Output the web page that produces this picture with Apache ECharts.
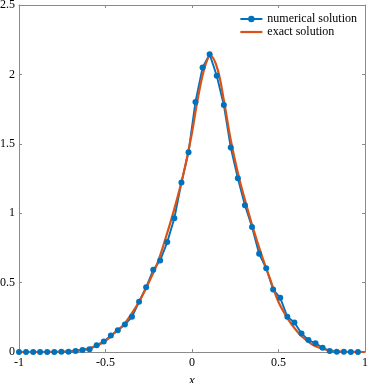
<!DOCTYPE html>
<html>
<head>
<meta charset="utf-8">
<script src="https://cdn.jsdelivr.net/npm/echarts@6/dist/echarts.min.js"></script>
<style>html,body{margin:0;padding:0;background:#fff;}#c{width:368px;height:383px;}</style>
</head>
<body>
<div id="c"></div>
<script>
// numerical solution grid points and values
var numX = [-1.0, -0.959, -0.918, -0.878, -0.837, -0.796, -0.755, -0.714, -0.673, -0.633,
  -0.592, -0.551, -0.510, -0.469, -0.429, -0.388, -0.347, -0.306, -0.265, -0.224,
  -0.184, -0.143, -0.102, -0.061, -0.020, 0.020, 0.061, 0.102, 0.143, 0.184,
  0.224, 0.265, 0.306, 0.347, 0.388, 0.429, 0.469, 0.510, 0.551, 0.592,
  0.633, 0.673, 0.714, 0.755, 0.796, 0.837, 0.878, 0.918, 0.959];
var numY = [0, 0, 0, 0, 0, 0, 0.001, 0.002, 0.007, 0.014,
  0.020, 0.049, 0.075, 0.118, 0.157, 0.198, 0.254, 0.362, 0.466, 0.592,
  0.659, 0.792, 0.964, 1.222, 1.440, 1.802, 2.049, 2.145, 1.990, 1.780,
  1.473, 1.251, 1.058, 0.900, 0.707, 0.603, 0.450, 0.390, 0.254, 0.213,
  0.134, 0.086, 0.063, 0.031, 0.007, 0.002, 0.001, 0, 0];
// exact solution
var exX = [-1, -0.9, -0.8, -0.7, -0.65, -0.6, -0.55, -0.5, -0.45, -0.4, -0.35, -0.3, -0.25,
  -0.2, -0.15, -0.1, -0.05, 0, 0.03, 0.07, 0.107, 0.148, 0.186, 0.225, 0.273, 0.312,
  0.351, 0.4, 0.45, 0.5, 0.555, 0.6, 0.632, 0.7, 0.75, 0.8, 0.865, 0.9, 1];
var exY = [0, 0, 0.001, 0.006, 0.013, 0.025, 0.045, 0.08, 0.135, 0.19, 0.275, 0.375, 0.5,
  0.64, 0.83, 1.04, 1.28, 1.58, 1.8, 2.036, 2.135, 2.036, 1.80, 1.52, 1.25, 1.07,
  0.9, 0.708, 0.53, 0.36, 0.237, 0.16, 0.116, 0.05, 0.025, 0.01, 0.003, 0.001, 0];
var xTicks = [-1, -0.5, 0, 0.5, 1];
var yTicks = [0, 0.5, 1, 1.5, 2, 2.5];

function pairs(xs, ys) { return xs.map(function (x, i) { return [x, ys[i]]; }); }

var FONT = 'Liberation Serif';
var axisGray = '#8a8a8a';
function xAx(pos, labels) {
  return {
    type: 'value', position: pos, min: xTicks[0], max: xTicks[xTicks.length - 1], interval: 0.5,
    axisLine: { show: true, onZero: false, lineStyle: { color: axisGray, width: 1 } },
    axisTick: { show: true, inside: true, length: 3, lineStyle: { color: axisGray } },
    axisLabel: { show: labels, color: '#000', fontFamily: FONT, fontSize: 12, margin: 5 },
    splitLine: { show: false },
    name: labels ? 'x' : '', nameLocation: 'middle', nameGap: 22,
    nameTextStyle: { fontFamily: FONT, fontStyle: 'italic', fontSize: 13, color: '#000' }
  };
}
function yAx(pos, labels) {
  return {
    type: 'value', position: pos, min: yTicks[0], max: yTicks[yTicks.length - 1], interval: 0.5,
    axisLine: { show: true, onZero: false, lineStyle: { color: axisGray, width: 1 } },
    axisTick: { show: true, inside: true, length: 3, lineStyle: { color: axisGray } },
    axisLabel: { show: labels, color: '#000', fontFamily: FONT, fontSize: 12, margin: 4 },
    splitLine: { show: false }
  };
}

var chart = echarts.init(document.getElementById('c'), null, { renderer: 'canvas' });
chart.setOption({
  animation: false,
  backgroundColor: '#fff',
  grid: { left: 19, right: 3, top: 5, bottom: 31, containLabel: false, outerBoundsMode: 'none' },
  xAxis: [xAx('bottom', true), xAx('top', false)],
  yAxis: [yAx('left', true), yAx('right', false)],
  legend: {
    orient: 'vertical', right: 6, top: 8, itemWidth: 22, itemHeight: 8, itemGap: 1,
    align: 'left',
    textStyle: { fontFamily: FONT, fontSize: 12, color: '#000' },
    data: [
      { name: 'numerical solution' },
      { name: 'exact solution', icon: 'path://M0,0H22V2.2H0Z' }
    ]
  },
  series: [
    {
      name: 'numerical solution', type: 'line', data: pairs(numX, numY),
      symbol: 'circle', symbolSize: 6, showSymbol: true,
      lineStyle: { color: '#0072BD', width: 1.9 },
      itemStyle: { color: '#0072BD' }
    },
    {
      name: 'exact solution', type: 'line', data: pairs(exX, exY),
      symbol: 'none', smooth: 0.35,
      lineStyle: { color: '#D95319', width: 2.2 },
      itemStyle: { color: '#D95319' }
    }
  ]
});
</script>
</body>
</html>
